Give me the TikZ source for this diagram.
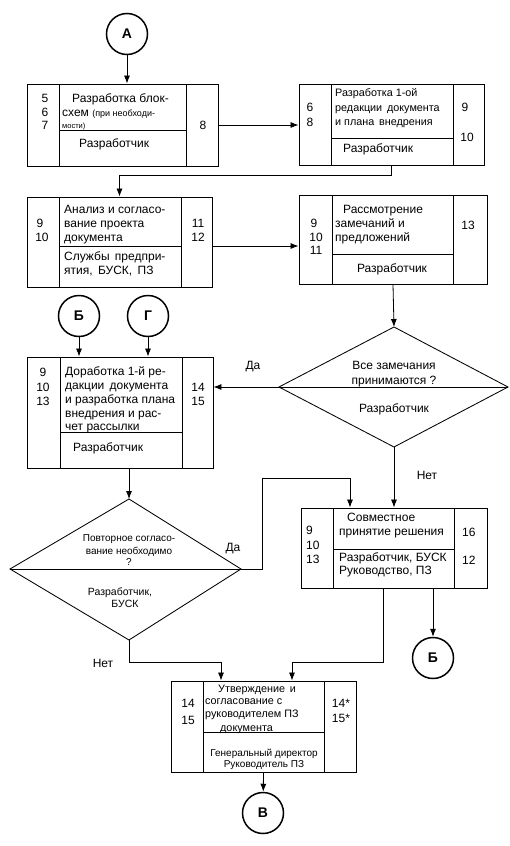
\documentclass[tikz,border=0pt]{standalone}
\usepackage{fontspec}
\setmainfont{Liberation Sans}
\usetikzlibrary{arrows.meta,calc}
\begin{document}
\begin{tikzpicture}[x=1pt,y=-1pt,
  box/.style={draw, line width=0.85pt, inner sep=0},
  div/.style={line width=0.75pt},
  circ/.style={draw, circle, line width=1.5pt, minimum size=41pt, inner sep=0, font=\bfseries\fontsize{14}{16}\selectfont},
  arr/.style={line width=0.8pt, -{Latex[length=8pt,width=6pt]}},
  lt/.style={inner sep=0, anchor=base west, font=\fontsize{12}{14}\selectfont},
  ct/.style={inner sep=0, anchor=base, font=\fontsize{12}{14}\selectfont},
  sm/.style={font=\fontsize{10.8}{13}\selectfont},
  xs/.style={font=\fontsize{10}{12}\selectfont},
  md/.style={font=\fontsize{10.5}{12}\selectfont}]
\useasboundingbox[fill=white] (0,0) rectangle (510,846);

% circles
\node[circ] (A) at (127,34) {А};
\node[circ] (B1) at (79,316) {Б};
\node[circ] (G) at (148,316) {Г};
\node[circ] (B2) at (433,658) {Б};
\node[circ] (V) at (263,813) {В};

% box 1
\node[box, minimum width=191pt, minimum height=82pt] (b1) at (122.5,125) {};
\draw[div] (59,84) -- (59,166) (186,84) -- (186,166) (59,130) -- (186,130);
\node[ct] (n1a) at (45,102) {5};
\node[ct] (n1b) at (45,116) {6};
\node[ct] (n1c) at (45,129) {7};
\node[ct] (n1d) at (203,129) {8};
\node[lt] (t1a) at (72,102) {Разработка блок-};
\node[lt] (t1b) at (62,116) {схем \fontsize{9}{11}\selectfont(при необходи-};
\node[lt] (t1c) at (62,128) {\fontsize{7.5}{9}\selectfont мости)};
\node[lt] (t1d) at (79,147) {Разработчик};

% box 2
\node[box, minimum width=185pt, minimum height=81pt] (b2) at (391.5,124.5) {};
\draw[div] (331,84) -- (331,165) (453,84) -- (453,165) (331,138) -- (453,138);
\node[ct] (n2a) at (310,111) {6};
\node[ct] (n2b) at (310,126) {8};
\node[ct] (n2c) at (465,111) {9};
\node[ct] (n2d) at (467,141) {10};
\node[lt,sm] (t2a) at (335,96) {Разработка 1-ой};
\node[lt,sm] (t2b) at (335,111) {редакции\, документа};
\node[lt,sm] (t2c) at (335,125) {и плана\, внедрения};
\node[lt] (t2d) at (343,152) {Разработчик};

% box 3
\node[box, minimum width=185pt, minimum height=90pt] (b3) at (119.5,242) {};
\draw[div] (59,197) -- (59,287) (181,197) -- (181,287) (59,246) -- (181,246);
\node[ct] (n3a) at (40,227) {9};
\node[ct] (n3b) at (42,241) {10};
\node[ct] (n3c) at (198,227) {11};
\node[ct] (n3d) at (198,241) {12};
\node[lt] (t3a) at (64,213) {Анализ и согласо-};
\node[lt] (t3b) at (64,227) {вание проекта};
\node[lt] (t3c) at (64,241) {документа};
\node[lt] (t3d) at (64,260) {Службы\, предпри-};
\node[lt] (t3e) at (64,274) {ятия,\, БУСК,\, ПЗ};

% box 4
\node[box, minimum width=188pt, minimum height=89pt] (b4) at (393,239.5) {};
\draw[div] (332,195) -- (332,284) (453,195) -- (453,284) (332,254) -- (453,254);
\node[ct] (n4a) at (314,227) {9};
\node[ct] (n4b) at (316,241) {10};
\node[ct] (n4c) at (316,254) {11};
\node[ct] (n4d) at (468,229) {13};
\node[lt] (t4a) at (343,213) {Рассмотрение};
\node[lt] (t4b) at (335,227) {замечаний и};
\node[lt] (t4c) at (335,241) {предложений};
\node[ct] (t4d) at (392,272) {Разработчик};

% diamond 1
\coordinate (d1t) at (394,327);
\coordinate (d1l) at (279,387);
\coordinate (d1r) at (508,387);
\coordinate (d1b) at (394,447);
\draw[box] (d1t) -- (d1r) -- (d1b) -- (d1l) -- cycle;
\draw[div] (d1l) -- (d1r);
\node[ct] (t5a) at (394,369) {Все замечания};
\node[ct] (t5b) at (394,384) {принимаются ?};
\node[ct] (t5c) at (394,412) {Разработчик};

% box 5
\node[box, minimum width=186pt, minimum height=111pt] (b5) at (120,412.5) {};
\draw[div] (60,357) -- (60,468) (182,357) -- (182,468) (60,432) -- (182,432);
\node[ct] (n5a) at (43,376) {9};
\node[ct] (n5b) at (43,391) {10};
\node[ct] (n5c) at (43,405) {13};
\node[ct] (n5d) at (198,391) {14};
\node[ct] (n5e) at (198,405) {15};
\node[lt] (t6a) at (65,375) {Доработка 1-й ре-};
\node[lt] (t6b) at (65,389) {дакции\, документа};
\node[lt] (t6c) at (65,403) {и разработка плана};
\node[lt] (t6d) at (65,417) {внедрения и рас-};
\node[lt] (t6e) at (65,430) {чет рассылки};
\node[lt] (t6f) at (73,451) {Разработчик};

% diamond 2
\coordinate (d2t) at (129,499);
\coordinate (d2l) at (10,569);
\coordinate (d2r) at (241,569);
\coordinate (d2b) at (129,640);
\draw[box] (d2t) -- (d2r) -- (d2b) -- (d2l) -- cycle;
\draw[div] (d2l) -- (d2r);
\node[ct,xs] (t7a) at (129,541) {Повторное согласо-};
\node[ct,xs] (t7b) at (129,554) {вание необходимо};
\node[ct,xs] (t7c) at (129,565) {?};
\node[ct,md] (t7d) at (120,595) {Разработчик,};
\node[ct,md] (t7e) at (125,607) {БУСК};

% box 6
\node[box, minimum width=186pt, minimum height=80pt] (b6) at (394,548) {};
\draw[div] (333,508) -- (333,588) (454,508) -- (454,588) (333,549) -- (454,549);
\node[lt] (n6a) at (306,534) {9};
\node[lt] (n6b) at (306,549) {10};
\node[lt] (n6c) at (306,563) {13};
\node[lt] (n6d) at (462,536) {16};
\node[lt] (n6e) at (462,564) {12};
\node[lt] (t8a) at (347,521) {Совместное};
\node[lt] (t8b) at (339,535) {принятие решения};
\node[lt] (t8c) at (339,561) {Разработчик, БУСК};
\node[lt] (t8d) at (339,574) {Руководство, ПЗ};

% box 7
\node[box, minimum width=185pt, minimum height=91pt] (b7) at (263.5,726.5) {};
\draw[div] (203,681) -- (203,772) (324,681) -- (324,772) (203,732) -- (324,732);
\node[ct] (n7a) at (188,707) {14};
\node[ct] (n7b) at (188,724) {15};
\node[ct] (n7c) at (341,707) {14*};
\node[ct] (n7d) at (341,722) {15*};
\node[lt,sm] (t9a) at (218,692) {Утверждение\, и};
\node[lt,sm] (t9b) at (205,704) {согласование с};
\node[lt,sm] (t9c) at (205,717) {руководителем ПЗ};
\node[lt,sm] (t9d) at (220,731) {документа};
\node[ct,xs] (t9e) at (264,756) {Генеральный директор};
\node[ct,xs] (t9f) at (264,767) {Руководитель ПЗ};

% labels
\node[ct] (l1) at (253,369) {Да};
\node[ct] (l2) at (427,479) {Нет};
\node[ct] (l3) at (233,551) {Да};
\node[ct] (l4) at (103,667) {Нет};

% connectors
\draw[arr] (A) -- (A |- b1.north);
\draw[arr] (b1.east) -- (b1.east -| b2.west);
\draw[arr] (b2.south) -- ++(0,10) -| (b3.north);
\coordinate (p3) at (212,246);
\draw[arr] (p3) -- (p3 -| b4.west);
\draw[arr] (b4.south) -- (d1t);
\draw[arr] (d1l) -- (d1l -| b5.east);
\draw[arr] (d1b) -- (d1b |- b6.north);
\draw[arr] (B1) -- (B1 |- b5.north);
\draw[arr] (G) -- (G |- b5.north);
\draw[arr] (d2t |- b5.south) -- (d2t);
\coordinate (j1) at (350,478);
\draw[arr] (d2r) -- ++(21,0) |- (j1) -- (j1 |- b6.north);
\coordinate (j2) at (221,662);
\draw[arr] (d2b) |- (j2) -- (j2 |- b7.north);
\coordinate (j3) at (383,662);
\coordinate (j4) at (292,662);
\draw[arr] (j3 |- b6.south) -- (j3) -- (j4) -- (j4 |- b7.north);
\draw[arr] (B2 |- b6.south) -- (B2);
\draw[arr] (b7.south) -- (V);
\end{tikzpicture}
\end{document}
